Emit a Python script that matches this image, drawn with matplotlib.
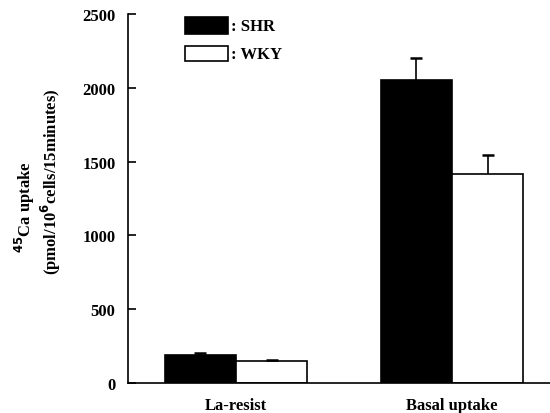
import matplotlib.pyplot as plt
import numpy as np

groups = ['La-resist', 'Basal uptake']
shr = [190, 2053]
shr_err = [13, 150]
wky = [149, 1416]
wky_err = [7, 130]
yticks = [0, 500, 1000, 1500, 2000, 2500]

plt.rcParams['font.family'] = ['Liberation Serif', 'DejaVu Serif']
plt.rcParams['font.weight'] = 'bold'

fig = plt.figure(figsize=(5.5, 4.14), dpi=100)
ax = fig.add_axes([0.2327, 0.0725, 0.7673, 0.8913])

x = np.arange(len(groups))
w = 0.33
ax.bar(x - w / 2, shr, w, color='black', edgecolor='black', linewidth=1.2)
ax.bar(x + w / 2, wky, w, color='white', edgecolor='black', linewidth=1.2)

# upper-only error bars with a cap at the top end
for xs, vals, errs in [(x - w / 2, shr, shr_err), (x + w / 2, wky, wky_err)]:
    vals = np.array(vals)
    errs = np.array(errs)
    ax.errorbar(xs, vals, yerr=[np.zeros(len(errs)), errs], fmt='none',
                ecolor='black', elinewidth=1.2, capsize=0)
    ax.plot(xs, vals + errs, ls='none', marker='_', markersize=9,
            markeredgewidth=1.8, color='black')

ax.set_xlim(-0.5, 1.454)
ax.set_ylim(0, 2500)
ax.set_yticks(yticks)
ax.set_yticklabels([str(t) for t in yticks], fontsize=12, fontweight='bold')
ax.set_xticks(x)
ax.set_xticklabels(groups, fontsize=12, fontweight='bold')
ax.tick_params(axis='y', direction='in', length=6, width=1.2, pad=9)
ax.tick_params(axis='x', length=0, pad=10)

for s in ['top', 'right']:
    ax.spines[s].set_visible(False)
ax.spines['left'].set_linewidth(1.2)
ax.spines['bottom'].set_linewidth(1.2)

fig.text(0.045, 0.50, '$^{45}$Ca uptake', rotation=90, ha='center', va='center',
         fontsize=12, fontweight='bold')
fig.text(0.092, 0.56, '(pmol/10$^{6}$cells/15minutes)', rotation=90, ha='center',
         va='center', fontsize=12, fontweight='bold')

# legend drawn by hand to mimic the ": SHR" style
lx, lw = 0.336, 0.078
fig.patches.append(plt.Rectangle((lx, 0.915), lw, 0.041, transform=fig.transFigure,
                                 facecolor='black', edgecolor='black', lw=1.2))
fig.patches.append(plt.Rectangle((lx, 0.85), lw, 0.036, transform=fig.transFigure,
                                 facecolor='white', edgecolor='black', lw=1.2))
fig.text(lx + lw + 0.006, 0.935, ': SHR', va='center', fontsize=12, fontweight='bold')
fig.text(lx + lw + 0.006, 0.868, ': WKY', va='center', fontsize=12, fontweight='bold')

fig.savefig('out.png', dpi=100)
